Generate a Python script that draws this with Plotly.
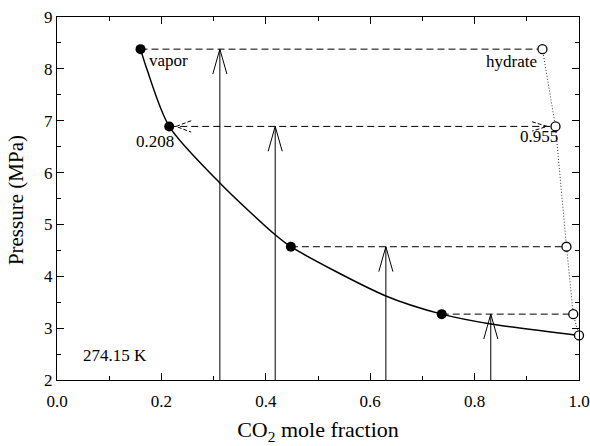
import plotly.graph_objects as go

# --- data ---
vapor_x = [0.160, 0.215, 0.448, 0.737]
levels_p = [8.38, 6.89, 4.57, 3.27]
hydrate_x = [0.930, 0.955, 0.976, 0.989, 1.000]
hydrate_p = [8.38, 6.89, 4.57, 3.27, 2.86]
curve_x = [0.160, 0.172, 0.215, 0.312, 0.418, 0.448, 0.630, 0.737, 0.831, 1.000]
curve_p = [8.38, 8.00, 6.89, 5.80, 4.80, 4.57, 3.62, 3.27, 3.08, 2.86]
arrow_x = [0.312, 0.418, 0.630, 0.831]
x_ticks = [0.0, 0.2, 0.4, 0.6, 0.8, 1.0]
x_ticklabels = ["0.0", "0.2", "0.4", "0.6", "0.8", "1.0"]
y_ticks = [2, 3, 4, 5, 6, 7, 8, 9]

FONT = "Liberation Serif"
fig = go.Figure()

# dashed tie lines
for xv, xh, p in zip(vapor_x, hydrate_x, levels_p):
    fig.add_trace(go.Scatter(x=[xv, xh], y=[p, p], mode="lines",
                             line=dict(color="black", width=1, dash="7px,4px"),
                             hoverinfo="skip", showlegend=False))

# vertical arrows (shafts + open V heads)
hx, hy = 0.0135, 0.48
for xa, p in zip(arrow_x, levels_p):
    fig.add_trace(go.Scatter(x=[xa, xa], y=[2.0, p], mode="lines",
                             line=dict(color="black", width=1), showlegend=False, hoverinfo="skip"))
    fig.add_trace(go.Scatter(x=[xa - hx, xa, xa + hx], y=[p - hy, p, p - hy], mode="lines",
                             line=dict(color="black", width=1), showlegend=False, hoverinfo="skip"))

# horizontal small arrowheads on the 0.208 / 0.955 tie line
p2 = levels_p[1]
lx = vapor_x[1] + 0.013
rx = hydrate_x[1] - 0.016
fig.add_trace(go.Scatter(x=[lx + 0.029, lx, lx + 0.029], y=[p2 + 0.11, p2, p2 - 0.11], mode="lines",
                         line=dict(color="black", width=1, dash="4px,2px"), showlegend=False, hoverinfo="skip"))
fig.add_trace(go.Scatter(x=[rx - 0.029, rx, rx - 0.029], y=[p2 + 0.09, p2, p2 - 0.09], mode="lines",
                         line=dict(color="black", width=1, dash="4px,2px"), showlegend=False, hoverinfo="skip"))

# solid equilibrium curve
fig.add_trace(go.Scatter(x=curve_x, y=curve_p, mode="lines",
                         line=dict(color="black", width=1.5, shape="spline", smoothing=0.8),
                         showlegend=False, hoverinfo="skip"))

# dotted hydrate line
fig.add_trace(go.Scatter(x=hydrate_x, y=hydrate_p, mode="lines",
                         line=dict(color="#333", width=1, dash="1px,2px"),
                         showlegend=False, hoverinfo="skip"))

# markers
fig.add_trace(go.Scatter(x=vapor_x, y=levels_p, mode="markers",
                         marker=dict(size=10, color="black"), showlegend=False))
fig.add_trace(go.Scatter(x=hydrate_x, y=hydrate_p, mode="markers",
                         marker=dict(size=9, color="white", line=dict(color="black", width=1.3)),
                         showlegend=False, cliponaxis=False))

ann = [("vapor", 0.213, 8.17), ("hydrate", 0.871, 8.15), ("0.208", 0.188, 6.60),
       ("0.955", 0.923, 6.70), ("274.15 K", 0.112, 2.47)]
for t, x, y in ann:
    fig.add_annotation(x=x, y=y, text=t, showarrow=False,
                       font=dict(family=FONT, size=17, color="black"))

# y-axis title as a rotated paper annotation
fig.add_annotation(xref="paper", yref="paper", x=-0.077, y=0.495, text="Pressure (MPa)",
                   textangle=-90, showarrow=False, xanchor="center", yanchor="middle",
                   font=dict(family=FONT, size=21, color="black"))

axis_common = dict(showline=True, linecolor="black", linewidth=1.2, mirror="ticks",
                   ticks="inside", ticklen=7, tickcolor="black", tickwidth=1,
                   showgrid=False, zeroline=False, automargin=False,
                   tickfont=dict(family=FONT, size=17, color="black"))
fig.update_xaxes(range=[0, 1], tickvals=x_ticks, ticktext=x_ticklabels, ticklabelstandoff=5,
                 minor=dict(dtick=0.1, ticks="inside", ticklen=4, tickcolor="black"),
                 title=dict(text="CO<sub>2</sub> mole fraction", font=dict(family=FONT, size=22, color="black"),
                            standoff=12),
                 **axis_common)
fig.update_yaxes(range=[2, 9], tickvals=y_ticks,
                 minor=dict(dtick=0.5, ticks="inside", ticklen=4, tickcolor="black"),
                 **axis_common)
fig.update_layout(width=590, height=446, margin=dict(l=57, r=11, t=17, b=66),
                  plot_bgcolor="white", paper_bgcolor="white")
fig.write_html("out.html")
